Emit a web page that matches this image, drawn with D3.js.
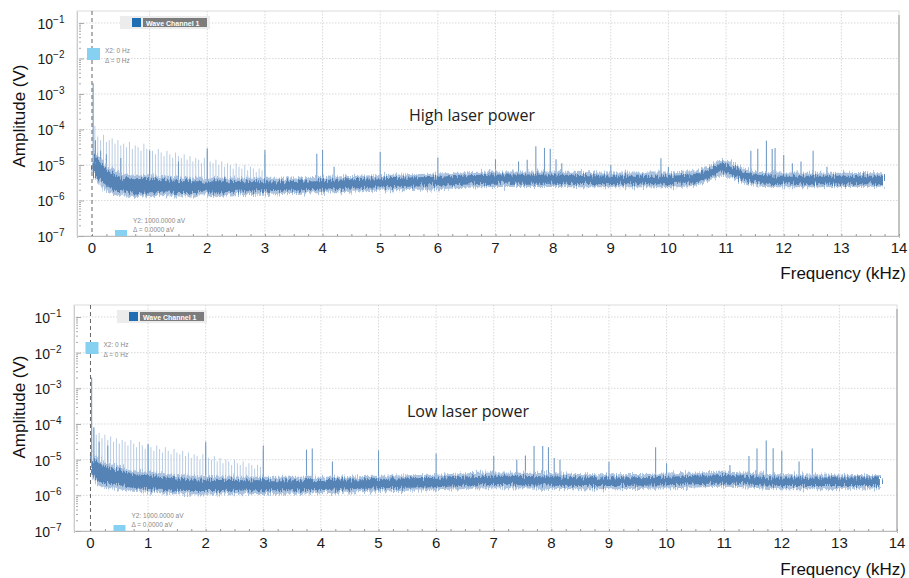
<!DOCTYPE html>
<html>
<head>
<meta charset="utf-8">
<script src="https://cdn.jsdelivr.net/npm/d3@7"></script>
<style>
  body { margin: 0; background: #fff; }
  svg { display: block; font-family: "Liberation Sans", Arial, sans-serif; }
</style>
</head>
<body>
<div class="chart-container"></div>
<script>
// ---- Data (log10 of amplitude in V, frequency in kHz) ----
const xTickValues = [0, 1, 2, 3, 4, 5, 6, 7, 8, 9, 10, 11, 12, 13, 14];
const yTickExps = [-1, -2, -3, -4, -5, -6, -7];
const panelTitles = ["High laser power", "Low laser power"];

// noise floor, top panel
const highFloorFreq = [0.03, 0.1, 0.3, 0.5, 0.75, 1, 1.5, 2, 2.5, 3, 4, 5, 6, 7, 8, 9, 10, 10.5, 10.75, 10.9, 11.05, 11.3, 11.6, 12, 13, 13.72];
const highFloorMid  = [-5.0, -5.12, -5.4, -5.55, -5.6, -5.58, -5.62, -5.62, -5.6, -5.6, -5.56, -5.5, -5.46, -5.4, -5.4, -5.42, -5.42, -5.36, -5.22, -5.08, -5.12, -5.3, -5.4, -5.42, -5.42, -5.42];
const highFloorIn   = [0.26, 0.26, 0.23, 0.21, 0.2, 0.19, 0.17, 0.16, 0.15, 0.14, 0.14, 0.13, 0.13, 0.13, 0.13, 0.12, 0.12, 0.12, 0.13, 0.13, 0.13, 0.12, 0.12, 0.12, 0.12, 0.12];
const highFloorOut  = [0.36, 0.38, 0.35, 0.32, 0.3, 0.29, 0.27, 0.26, 0.25, 0.24, 0.23, 0.22, 0.22, 0.22, 0.22, 0.21, 0.21, 0.21, 0.22, 0.22, 0.22, 0.21, 0.21, 0.21, 0.2, 0.19];

// noise floor, bottom panel
const lowFloorFreq = [0.03, 0.1, 0.3, 0.5, 0.75, 1, 1.5, 2, 2.5, 3, 4, 5, 6, 7, 8, 9, 10, 11, 12, 13, 13.72];
const lowFloorMid  = [-5.1, -5.3, -5.45, -5.5, -5.6, -5.63, -5.7, -5.72, -5.72, -5.72, -5.71, -5.67, -5.64, -5.58, -5.6, -5.62, -5.6, -5.55, -5.62, -5.62, -5.62];
const lowFloorIn   = [0.26, 0.26, 0.23, 0.21, 0.2, 0.19, 0.17, 0.16, 0.15, 0.14, 0.14, 0.13, 0.13, 0.13, 0.13, 0.12, 0.12, 0.12, 0.12, 0.12, 0.12];
const lowFloorOut  = [0.38, 0.38, 0.35, 0.32, 0.3, 0.29, 0.27, 0.26, 0.25, 0.24, 0.23, 0.22, 0.22, 0.22, 0.22, 0.21, 0.21, 0.21, 0.21, 0.2, 0.19];

// 50 Hz comb (0.05 .. 3.0 kHz), light spikes
const highComb = [
  -3.9, -4.2, -4.3, -4.15, -4.35, -4.3, -4.25, -4.4, -4.3, -4.45,
  -4.4, -4.5, -4.35, -4.55, -4.45, -4.5, -4.6, -4.4, -4.55, -4.55,
  -4.6, -4.7, -4.55, -4.65, -4.75, -4.6, -4.7, -4.8, -4.65, -4.75,
  -4.8, -4.7, -4.85, -4.75, -4.9, -4.8, -4.85, -4.95, -4.8, -4.6,
  -4.9, -4.95, -4.85, -5.0, -4.9, -5.05, -4.95, -5.0, -5.1, -4.95,
  -5.05, -5.1, -5.0, -5.15, -5.05, -5.1, -5.2, -5.1, -5.15, -4.7
];
const lowComb = [
  -4.1, -4.3, -4.25, -4.4, -4.3, -4.45, -4.35, -4.5, -4.4, -4.55,
  -4.45, -4.5, -4.6, -4.45, -4.55, -4.65, -4.5, -4.6, -4.7, -4.6,
  -4.65, -4.75, -4.6, -4.7, -4.8, -4.65, -4.75, -4.85, -4.7, -4.8,
  -4.85, -4.75, -4.9, -4.8, -4.95, -4.85, -4.9, -5.0, -4.85, -4.6,
  -4.95, -5.0, -4.9, -5.05, -4.95, -5.1, -5.0, -5.05, -5.15, -5.0,
  -5.1, -5.15, -5.05, -5.2, -5.1, -5.15, -5.25, -5.15, -5.2, -4.75
];

// prominent spikes
const highSpikeFreq = [0.02, 0.06, 0.15, 0.25, 0.5, 1.0, 1.5, 2.0, 3.0, 3.9, 4.0, 4.2, 5.0, 6.0, 7.0, 7.4, 7.55, 7.7, 7.85, 7.95, 8.05, 8.15, 9.0, 9.87, 10.0, 11.43, 11.55, 11.7, 11.8, 11.85, 12.0, 12.15, 12.3, 12.51, 12.75];
const highSpikeAmp  = [-2.7, -4.3, -4.6, -4.7, -4.8, -4.6, -4.9, -4.53, -4.58, -4.68, -4.58, -5.05, -4.63, -4.79, -4.84, -4.9, -4.85, -4.47, -4.52, -4.54, -4.84, -4.95, -5.0, -4.81, -5.05, -4.6, -4.54, -4.32, -4.55, -4.52, -4.72, -4.95, -4.9, -4.6, -5.05];
const lowSpikeFreq = [0.02, 0.06, 0.15, 0.3, 1.0, 2.0, 3.0, 3.75, 3.85, 4.2, 5.0, 6.0, 7.0, 7.4, 7.55, 7.7, 7.85, 7.95, 8.05, 8.15, 9.0, 9.81, 10.0, 11.1, 11.43, 11.57, 11.73, 11.85, 12.0, 12.3, 12.53];
const lowSpikeAmp  = [-2.7, -4.1, -4.5, -4.6, -4.56, -4.5, -4.6, -4.72, -4.69, -5.05, -4.74, -4.83, -4.9, -5.0, -4.88, -4.62, -4.62, -4.65, -4.95, -5.0, -5.06, -4.65, -5.1, -5.15, -4.9, -4.69, -4.46, -4.68, -4.75, -5.05, -4.69];

// ---- Layout ----
const chartWidth = 909;
const chartHeight = 578;

const panels = [
  {
    title: panelTitles[0], titleX: 472, titleY: 121,
    left: 77, right: 899, top: 11, bottom: 236, xMin: -0.26, yTop: -0.662,
    floorFreq: highFloorFreq, floorMid: highFloorMid, floorIn: highFloorIn, floorOut: highFloorOut,
    comb: highComb, spikeFreq: highSpikeFreq, spikeAmp: highSpikeAmp,
    ampLabelY: 116, freqLabelY: 279
  },
  {
    title: panelTitles[1], titleX: 468, titleY: 417,
    left: 74, right: 897, top: 305, bottom: 531, xMin: -0.286, yTop: -0.664,
    floorFreq: lowFloorFreq, floorMid: lowFloorMid, floorIn: lowFloorIn, floorOut: lowFloorOut,
    comb: lowComb, spikeFreq: lowSpikeFreq, spikeAmp: lowSpikeAmp,
    ampLabelY: 407, freqLabelY: 575
  }
];

const svg = d3
  .select(".chart-container")
  .append("svg")
  .attr("width", chartWidth)
  .attr("height", chartHeight)
  .attr("viewBox", [0, 0, chartWidth, chartHeight]);

// jagged look for the noise floor
const defs = svg.append("defs");
const rough = defs.append("filter")
  .attr("id", "rough")
  .attr("x", "-2%").attr("y", "-60%")
  .attr("width", "104%").attr("height", "220%");
rough.append("feTurbulence")
  .attr("type", "fractalNoise")
  .attr("baseFrequency", "0.9 0.08")
  .attr("numOctaves", 2)
  .attr("seed", 3)
  .attr("result", "noise");
rough.append("feDisplacementMap")
  .attr("in", "SourceGraphic")
  .attr("in2", "noise")
  .attr("scale", 10)
  .attr("xChannelSelector", "B")
  .attr("yChannelSelector", "G");

panels.forEach((p, i) => drawPanel(p, i));

function drawPanel(p, i) {
  const xScale = d3.scaleLinear().domain([p.xMin, 14]).range([p.left, p.right]);
  // work in log10 units so the data stays readable
  const yScale = d3.scaleLinear().domain([-7, p.yTop]).range([p.bottom, p.top]);

  const g = svg.append("g").attr("class", "panel-" + i);

  g.append("clipPath")
    .attr("id", "clip-" + i)
    .append("rect")
    .attr("x", p.left)
    .attr("y", p.top)
    .attr("width", p.right - p.left)
    .attr("height", p.bottom - p.top);

  // frame
  g.append("rect")
    .attr("x", p.left)
    .attr("y", p.top)
    .attr("width", p.right - p.left)
    .attr("height", p.bottom - p.top)
    .attr("fill", "#fff")
    .attr("stroke", "#dcdcdc");

  // grid
  g.append("g")
    .selectAll("line")
    .data(xTickValues.filter(d => d > 0 && d < 14))
    .join("line")
    .attr("x1", d => xScale(d))
    .attr("x2", d => xScale(d))
    .attr("y1", p.top)
    .attr("y2", p.bottom)
    .attr("stroke", "#d9d9d9")
    .attr("stroke-dasharray", "1.5,1.5");
  g.append("g")
    .selectAll("line")
    .data(yTickExps.filter(d => d > -7))
    .join("line")
    .attr("x1", p.left)
    .attr("x2", p.right)
    .attr("y1", d => yScale(d))
    .attr("y2", d => yScale(d))
    .attr("stroke", "#d9d9d9")
    .attr("stroke-dasharray", "1.5,1.5");

  g.append("line")
    .attr("x1", p.right).attr("x2", p.right)
    .attr("y1", p.top + 4).attr("y2", p.bottom)
    .attr("stroke", "#999");

  // axes
  const xAxis = d3.axisBottom(xScale)
    .tickValues(d3.range(0, 14.01, 0.25))
    .tickSize(2)
    .tickFormat("");
  g.append("g")
    .attr("transform", `translate(0,${p.bottom})`)
    .call(xAxis)
    .call(a => a.select(".domain").attr("stroke", "#bbb"))
    .call(a => a.selectAll(".tick line").attr("stroke", "#999").attr("y2", -2));

  const minorY = [];
  yTickExps.forEach(e => {
    if (e < -1) {
      [2, 3, 4, 5, 6, 7, 8, 9].forEach(m => minorY.push(e + Math.log10(m)));
    }
  });
  const yAxis = d3.axisLeft(yScale)
    .tickValues(yTickExps.concat(minorY))
    .tickSize(0)
    .tickFormat("");
  g.append("g")
    .attr("transform", `translate(${p.left},0)`)
    .call(yAxis)
    .call(a => a.select(".domain").attr("stroke", "#ccc"))
    .call(a => a.selectAll(".tick line")
      .attr("stroke", "#aaa")
      .attr("x1", 2)
      .attr("x2", d => (Number.isInteger(d) ? 7 : 4)));

  // tick labels
  g.append("g")
    .selectAll("text")
    .data(xTickValues)
    .join("text")
    .attr("x", d => xScale(d))
    .attr("y", p.bottom + 17)
    .attr("text-anchor", "middle")
    .attr("font-size", 15)
    .attr("fill", "#1a1a1a")
    .text(d => d);

  const yLab = g.append("g")
    .selectAll("text")
    .data(yTickExps)
    .join("text")
    .attr("x", p.left - 26)
    .attr("y", d => yScale(d) + 6)
    .attr("text-anchor", "middle")
    .attr("font-size", 14)
    .attr("fill", "#1a1a1a");
  yLab.append("tspan").text("10");
  yLab.append("tspan")
    .attr("dy", -6)
    .attr("font-size", 10)
    .text(d => "\u2212" + (-d));

  // axis titles
  g.append("text")
    .attr("transform", `translate(25,${p.ampLabelY}) rotate(-90)`)
    .attr("text-anchor", "middle")
    .attr("font-size", 17)
    .attr("fill", "#111")
    .text("Amplitude (V)");
  g.append("text")
    .attr("x", 906)
    .attr("y", p.freqLabelY)
    .attr("text-anchor", "end")
    .attr("font-size", 17)
    .attr("fill", "#111")
    .text("Frequency (kHz)");

  // data layer
  const plot = g.append("g").attr("clip-path", `url(#clip-${i})`);

  const floor = p.floorFreq.map((f, k) => ({
    f: f, mid: p.floorMid[k], inner: p.floorIn[k], outer: p.floorOut[k]
  }));
  const bisect = d3.bisector(d => d.f).center;
  const baseAt = f => {
    const d = floor[bisect(floor, f)];
    return d.mid - d.inner * 0.5;
  };

  const combFreq = p.comb.map((d, k) => (k + 1) * 0.05);
  plot.append("g")
    .selectAll("line")
    .data(p.comb)
    .join("line")
    .attr("x1", (d, k) => xScale(combFreq[k]))
    .attr("x2", (d, k) => xScale(combFreq[k]))
    .attr("y1", (d, k) => yScale(baseAt(combFreq[k])))
    .attr("y2", d => yScale(d))
    .attr("stroke", "#b8cce3")
    .attr("stroke-width", 1);

  plot.append("g")
    .selectAll("line")
    .data(p.spikeAmp)
    .join("line")
    .attr("x1", (d, k) => xScale(p.spikeFreq[k]))
    .attr("x2", (d, k) => xScale(p.spikeFreq[k]))
    .attr("y1", (d, k) => yScale(baseAt(p.spikeFreq[k])))
    .attr("y2", d => yScale(d))
    .attr("stroke", "#739bc6")
    .attr("stroke-width", 1.1);

  const outerArea = d3.area()
    .x(d => xScale(d.f))
    .y0(d => yScale(d.mid - d.outer))
    .y1(d => yScale(d.mid + d.outer))
    .curve(d3.curveMonotoneX);
  const innerArea = d3.area()
    .x(d => xScale(d.f))
    .y0(d => yScale(d.mid - d.inner))
    .y1(d => yScale(d.mid + d.inner))
    .curve(d3.curveMonotoneX);
  const band = plot.append("g").attr("filter", "url(#rough)");
  band.append("path")
    .datum(floor)
    .attr("d", outerArea)
    .attr("fill", "#9db8da")
    .attr("opacity", 0.85);
  band.append("path")
    .datum(floor)
    .attr("d", innerArea)
    .attr("fill", "#5683b6");

  // cursor line at 0 Hz
  g.append("line")
    .attr("x1", xScale(0)).attr("x2", xScale(0))
    .attr("y1", p.top).attr("y2", p.bottom)
    .attr("stroke", "#666")
    .attr("stroke-dasharray", "4,3");

  // legend chip
  const lx = p.left + 43;
  const ly = p.top + 5;
  g.append("rect").attr("x", lx).attr("y", ly).attr("width", 90).attr("height", 13).attr("fill", "#ececec");
  g.append("rect").attr("x", lx + 12).attr("y", ly + 2).attr("width", 9).attr("height", 9).attr("fill", "#1f6db3");
  g.append("rect").attr("x", lx + 23).attr("y", ly + 2).attr("width", 64).attr("height", 9).attr("fill", "#7c7c7c");
  g.append("text")
    .attr("x", lx + 26).attr("y", ly + 9.5)
    .attr("font-size", 7).attr("font-weight", "bold").attr("fill", "#fff")
    .text("Wave Channel 1");

  // cursor markers
  const cx = xScale(0);
  g.append("rect").attr("x", cx - 5).attr("y", p.top + 37).attr("width", 13).attr("height", 12).attr("fill", "#86d0f2");
  g.append("text").attr("x", cx + 13).attr("y", p.top + 42).attr("font-size", 6.5).attr("fill", "#888").text("X2: 0 Hz");
  g.append("text").attr("x", cx + 13).attr("y", p.top + 52).attr("font-size", 6.5).attr("fill", "#888").text("\u0394 = 0 Hz");
  g.append("rect").attr("x", cx + 23).attr("y", p.bottom - 6).attr("width", 12).attr("height", 6).attr("fill", "#86d0f2");
  g.append("text").attr("x", cx + 41).attr("y", p.bottom - 13).attr("font-size", 6.5).attr("fill", "#888").text("Y2: 1000.0000 aV");
  g.append("text").attr("x", cx + 41).attr("y", p.bottom - 4).attr("font-size", 6.5).attr("fill", "#888").text("\u0394 = 0.0000 aV");

  // panel title
  g.append("text")
    .attr("x", p.titleX)
    .attr("y", p.titleY)
    .attr("text-anchor", "middle")
    .attr("font-family", "'Open Sans', 'Noto Sans', sans-serif")
    .attr("font-size", 16)
    .attr("fill", "#222")
    .text(p.title);
}
</script>
</body>
</html>
